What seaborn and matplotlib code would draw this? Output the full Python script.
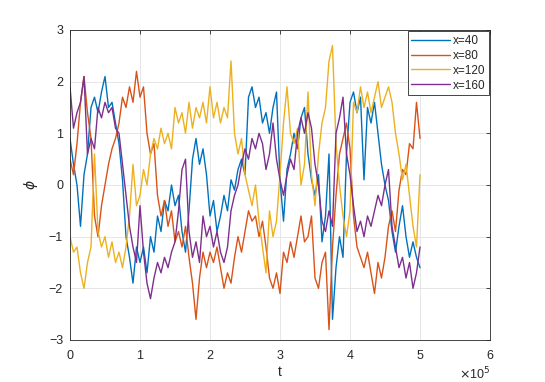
import numpy as np
import pandas as pd
import matplotlib
matplotlib.use("Agg")
import matplotlib.pyplot as plt
import seaborn as sns

# phi(t) at four positions, every 5000 steps
t_step = 5000
labels = ["x=40", "x=80", "x=120", "x=160"]

phi_40 = [0.9, 0.4, 0.0, -0.8, 0.2, 0.6, 1.5, 1.7, 1.4, 1.8,
          2.1, 1.5, 1.6, 1.2, 0.8, 0.1, -1.0, -1.4, -1.9, -1.2,
          -1.5, -1.2, -1.7, -1.0, -1.3, -0.6, -0.9, -0.3, -0.5, 0.0,
          -0.4, -0.2, -0.9, -1.3, -0.5, 0.5, 0.9, 0.4, 0.7, 0.2,
          -0.6, -0.3, -0.9, -0.6, -0.2, -0.5, 0.1, -0.1, 0.3, 0.5,
          0.2, 1.7, 1.9, 1.5, 1.7, 1.2, 1.4, 1.0, 1.5, 1.8,
          0.1, -0.7, 0.3, 0.6, 1.0, 0.7, 1.3, 1.5, 0.6, 0.1,
          -0.2, 0.2, -1.1, -0.6, 0.6, -2.6, -1.6, -1.0, -1.4, 0.6,
          1.6, 1.8, 1.4, 1.7, 0.1, 1.5, 1.2, 1.6, 1.0, 0.4,
          0.0, -0.3, -0.9, -1.3, -0.8, -0.4, -1.0, -1.4, -1.1, -1.4,
          -1.6]
phi_80 = [0.5, 0.2, 0.8, 1.6, 2.1, 1.4, 0.9, -0.6, -1.0, -0.4,
          0.0, 0.4, 0.7, 0.9, 1.2, 1.7, 1.5, 1.9, 1.6, 2.2,
          1.7, 1.9, 1.0, 0.6, 0.8, -0.2, -0.6, -0.3, -0.8, -0.5,
          -1.1, -0.9, -1.2, -0.8, -1.4, -1.9, -2.6, -1.8, -1.3, -1.6,
          -1.3, -1.5, -1.2, -1.6, -2.0, -1.7, -1.9, -1.4, -1.0, -1.3,
          -0.9, -0.5, -0.7, -0.6, -1.0, -0.7, -1.2, -1.8, -2.0, -1.7,
          -2.1, -1.3, -1.5, -1.1, -1.4, -1.0, -0.6, -1.1, -1.0, -0.6,
          -1.8, -2.0, -1.5, -1.3, -2.8, -1.2, -0.2, 0.6, 0.9, 1.2,
          0.7, -0.6, -1.2, -1.4, -1.6, -1.3, -1.7, -2.1, -1.5, -1.8,
          -1.4, -0.8, -0.5, -0.9, -0.1, 0.3, 0.2, 0.8, 0.7, 1.6,
          0.9]
phi_120 = [-1.0, -1.3, -1.2, -1.7, -2.0, -1.5, -1.2, 0.6, -0.9, -1.2,
           -1.0, -1.4, -1.1, -1.5, -1.3, -1.6, -1.2, -0.6, 0.4, -0.4,
           -0.2, 0.3, 0.0, 0.6, 0.9, 0.7, 1.1, 0.8, 1.0, 0.7,
           1.5, 1.2, 1.4, 1.0, 1.6, 1.1, 1.5, 1.3, 1.6, 1.2,
           1.9, 1.3, 1.6, 1.2, 1.5, 1.3, 2.4, 1.0, 0.6, 0.9,
           0.2, -0.1, -0.4, 0.0, -0.7, -1.2, -1.7, -0.5, -1.0, -0.7,
           0.2, 1.2, 1.9, 1.0, 0.8, 1.1, 0.0, 0.4, 1.8, 0.2,
           -0.4, 0.6, 1.2, 1.5, 2.4, 2.7, 0.8, 0.0, -0.6, -1.0,
           -0.5, 1.6, 1.4, 1.9, 1.5, 1.8, 1.4, 1.7, 2.0, 1.5,
           1.7, 1.9, 1.6, 1.0, 0.6, 0.1, 0.4, -0.2, -0.8, -1.2,
           0.2]
phi_160 = [1.9, 1.1, 1.4, 1.6, 2.1, 0.6, 0.9, 0.7, 1.5, 1.3,
           1.6, 1.4, 1.5, 1.1, 1.0, 0.4, -0.2, -0.8, -1.2, -1.5,
           -0.4, -1.3, -1.9, -2.2, -1.8, -1.5, -1.7, -1.4, -1.6, -1.3,
           -1.1, -0.5, 0.3, 0.5, -0.9, -1.4, -1.1, -1.5, -0.6, -1.0,
           -0.8, -1.2, -0.9, -1.3, -1.5, -1.2, -0.5, -0.2, 0.0, 0.4,
           0.7, 0.5, 0.9, 0.7, 1.0, 0.8, 0.3, 0.6, 1.2, 0.5,
           0.1, -0.2, 0.2, 0.5, 0.3, 1.0, 1.3, 1.0, 1.4, 1.1,
           0.4, 0.0, -0.7, -0.9, -0.5, -0.8, 1.0, 1.3, 1.7, 0.6,
           0.2, -0.4, -0.9, -0.7, -1.0, -0.6, -0.8, -0.5, -0.2, -0.4,
           0.0, 0.3, -0.8, -1.2, -1.6, -1.4, -1.8, -1.5, -2.0, -1.7,
           -1.2]

colors = ["#0072BD", "#D95319", "#EDB120", "#7E2F8E"]


def build_frame():
    frames = []
    for lab, vals in zip(labels, [phi_40, phi_80, phi_120, phi_160]):
        t = np.arange(len(vals)) * t_step
        frames.append(pd.DataFrame({"t": t, "phi": vals, "series": lab}))
    return pd.concat(frames, ignore_index=True)


def main():
    sns.set_style("white")
    plt.rcParams["font.family"] = ["Liberation Sans", "DejaVu Sans"]
    plt.rcParams["mathtext.fontset"] = "dejavusans"
    df = build_frame()

    fig = plt.figure(figsize=(5.45, 3.82), dpi=100)
    ax = fig.add_axes([70 / 545, 42 / 382, 420 / 545, 310 / 382])
    sns.lineplot(data=df, x="t", y="phi", hue="series", palette=colors,
                 linewidth=1.0, ax=ax, estimator=None, sort=False)

    ax.set_xlim(0, 6e5)
    ax.set_ylim(-3, 3)
    ax.set_xticks(np.arange(0, 7) * 1e5)
    ax.set_xticklabels([str(i) for i in range(7)])
    ax.set_yticks(np.arange(-3, 4))
    ax.grid(True, color="#e6e6e6", linewidth=0.7)
    ax.set_axisbelow(True)
    for s in ax.spines.values():
        s.set_color("#262626")
        s.set_linewidth(0.6)
    ax.tick_params(direction="in", length=3, width=0.6, colors="#262626",
                   labelsize=9, top=True, right=True, pad=5)
    ax.tick_params(axis="x", pad=7)
    ax.set_xlabel("t", fontsize=10, color="#262626", labelpad=2)
    ax.set_ylabel(r"$\phi$", fontsize=10, color="#262626", labelpad=6)
    ax.text(1.0, -0.083, r"$\times$10$^5$", transform=ax.transAxes,
            ha="right", va="top", fontsize=9, color="#262626")

    leg = ax.legend(loc="upper right", fontsize=8.5, frameon=True,
                    fancybox=False, borderaxespad=0.1, handlelength=3.3,
                    handletextpad=0.2, labelspacing=0.25, borderpad=0.3)
    leg.get_frame().set_edgecolor("#262626")
    leg.get_frame().set_linewidth(0.6)
    leg.get_frame().set_alpha(1.0)
    for line in leg.get_lines():
        line.set_linewidth(1.0)

    fig.savefig("out.png", dpi=100)


main()
